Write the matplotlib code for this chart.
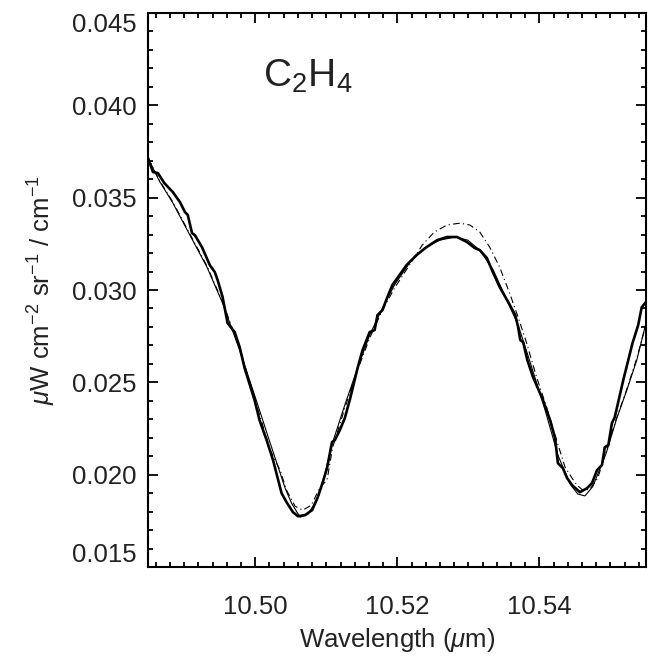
import matplotlib
matplotlib.use("Agg")
import matplotlib.pyplot as plt
from matplotlib.ticker import MultipleLocator, FixedLocator, FormatStrFormatter

# ---- data ----
obs_wl = [10.4849, 10.4856, 10.4863, 10.4872, 10.4884, 10.4894, 10.4901, 10.4905,
          10.4911, 10.4915, 10.4925, 10.4936, 10.4943, 10.4947, 10.4954, 10.4961,
          10.4971, 10.4978, 10.4985, 10.4999, 10.5006, 10.5016, 10.5025, 10.5037,
          10.5044, 10.5053, 10.5060, 10.5070, 10.5080, 10.5088, 10.5095, 10.5101,
          10.5108, 10.5112, 10.5119, 10.5126, 10.5133, 10.5144, 10.5151, 10.5161,
          10.5168, 10.5172, 10.5179, 10.5186, 10.5193, 10.5203, 10.5213, 10.5227,
          10.5241, 10.5256, 10.5270, 10.5284, 10.5298, 10.5309, 10.5316, 10.5326,
          10.5335, 10.5344, 10.5356, 10.5366, 10.5370, 10.5373, 10.5377, 10.5383,
          10.5391, 10.5405, 10.5415, 10.5422, 10.5426, 10.5433, 10.5439, 10.5446,
          10.5457, 10.5467, 10.5474, 10.5481, 10.5488, 10.5492, 10.5497, 10.5502,
          10.5506, 10.5518, 10.5531, 10.5539, 10.5544, 10.5550]
obs_rad = [0.03715, 0.03639, 0.03633, 0.03579, 0.03530, 0.03476, 0.03422, 0.03406,
           0.03308, 0.03297, 0.03232, 0.03135, 0.03097, 0.03054, 0.02962, 0.02821,
           0.02772, 0.02691, 0.02577, 0.02404, 0.02295, 0.02187, 0.02079, 0.01900,
           0.01851, 0.01797, 0.01775, 0.01781, 0.01808, 0.01878, 0.01959, 0.02035,
           0.02176, 0.02187, 0.02241, 0.02306, 0.02404, 0.02577, 0.02674, 0.02772,
           0.02783, 0.02864, 0.02891, 0.02962, 0.03027, 0.03081, 0.03135, 0.03189,
           0.03232, 0.03270, 0.03287, 0.03287, 0.03260, 0.03227, 0.03216, 0.03173,
           0.03092, 0.03016, 0.02935, 0.02864, 0.02799, 0.02729, 0.02718, 0.02620,
           0.02528, 0.02404, 0.02295, 0.02198, 0.02062, 0.02035, 0.01981, 0.01943,
           0.01905, 0.01927, 0.01954, 0.02024, 0.02052, 0.02149, 0.02160, 0.02279,
           0.02311, 0.02512, 0.02712, 0.02810, 0.02907, 0.02935]

fit_wl = [10.4849, 10.4865, 10.4884, 10.4908, 10.4932, 10.4954, 10.4978, 10.4999,
          10.5021, 10.5042, 10.5051, 10.5063, 10.5074, 10.5087, 10.5095, 10.5109,
          10.5126, 10.5144, 10.5161, 10.5179, 10.5196, 10.5217, 10.5238, 10.5260,
          10.5281, 10.5299, 10.5316, 10.5335, 10.5351, 10.5370, 10.5386, 10.5408,
          10.5426, 10.5443, 10.5454, 10.5464, 10.5475, 10.5494, 10.5508, 10.5523,
          10.5537, 10.5550]
fit_rad = [0.03715, 0.03590, 0.03471, 0.03297, 0.03124, 0.02929, 0.02674, 0.02431,
           0.02171, 0.01927, 0.01846, 0.01770, 0.01786, 0.01862, 0.01959, 0.02176,
           0.02377, 0.02577, 0.02756, 0.02902, 0.03027, 0.03146, 0.03227, 0.03270,
           0.03287, 0.03270, 0.03216, 0.03108, 0.02972, 0.02810, 0.02620, 0.02349,
           0.02106, 0.01950, 0.01895, 0.01885, 0.01935, 0.02117, 0.02295, 0.02458,
           0.02620, 0.02821]

alt_wl = [10.4849, 10.4865, 10.4884, 10.4908, 10.4932, 10.4954, 10.4978, 10.5004,
          10.5021, 10.5035, 10.5044, 10.5056, 10.5067, 10.5079, 10.5091, 10.5101,
          10.5109, 10.5126, 10.5144, 10.5161, 10.5179, 10.5196, 10.5217, 10.5235,
          10.5252, 10.5270, 10.5288, 10.5302, 10.5316, 10.5330, 10.5344, 10.5358,
          10.5370, 10.5382, 10.5396, 10.5410, 10.5422, 10.5436, 10.5446, 10.5453,
          10.5461, 10.5471, 10.5482, 10.5494, 10.5508, 10.5523, 10.5537, 10.5550]
alt_rad = [0.03715, 0.03595, 0.03476, 0.03303, 0.03130, 0.02935, 0.02685, 0.02349,
           0.02133, 0.02024, 0.01916, 0.01829, 0.01808, 0.01835, 0.01932, 0.01970,
           0.02149, 0.02360, 0.02566, 0.02740, 0.02891, 0.03010, 0.03135, 0.03243,
           0.03314, 0.03352, 0.03362, 0.03352, 0.03314, 0.03232, 0.03124, 0.02983,
           0.02853, 0.02712, 0.02528, 0.02366, 0.02214, 0.02041, 0.01981, 0.01943,
           0.01916, 0.01921, 0.01981, 0.02127, 0.02300, 0.02463, 0.02630, 0.02815]

x_major = [10.50, 10.52, 10.54]
y_major = [0.015, 0.020, 0.025, 0.030, 0.035, 0.040, 0.045]
species = r"C$_2$H$_4$"

# ---- style ----
plt.rcParams['font.family'] = ['Liberation Sans', 'DejaVu Sans']
plt.rcParams['mathtext.fontset'] = 'custom'
plt.rcParams['mathtext.rm'] = 'Liberation Sans'
plt.rcParams['mathtext.it'] = 'Liberation Sans:italic'
plt.rcParams['mathtext.default'] = 'rm'

txt = '#222222'
fig = plt.figure(figsize=(6.48, 6.56), dpi=100)
ax = fig.add_axes([148 / 648, (656 - 567) / 656, (646 - 148) / 648, (567 - 13) / 656])

ax.plot(fit_wl, fit_rad, color='black', lw=0.8)
ax.plot(alt_wl, alt_rad, color='black', lw=0.8, linestyle=(0, (6, 3, 1, 3)))
ax.plot(obs_wl, obs_rad, color='black', lw=1.9)

ax.set_xlim(10.4849, 10.5550)
ax.set_ylim(0.015, 0.045)

ax.xaxis.set_major_locator(FixedLocator(x_major))
ax.xaxis.set_minor_locator(MultipleLocator(0.002))
ax.yaxis.set_major_locator(FixedLocator(y_major))
ax.yaxis.set_minor_locator(MultipleLocator(0.001))
ax.xaxis.set_major_formatter(FormatStrFormatter('%.2f'))
ax.yaxis.set_major_formatter(FormatStrFormatter('%.3f'))

ax.tick_params(which='both', direction='in', top=True, right=True, width=1.3,
               labelsize=18.5, color='black', labelcolor=txt)
ax.tick_params(axis='x', which='major', length=7.5, pad=20)
ax.tick_params(axis='y', which='major', length=7.5, pad=8)
ax.tick_params(which='minor', length=3.8)
for s in ax.spines.values():
    s.set_linewidth(1.5)

ax.set_xlabel(r"Wavelength ($\mathit{\mu}$m)", fontsize=18.5, labelpad=5, color=txt)
ax.set_ylabel(r"$\mathit{\mu}$W cm$^{-2}$ sr$^{-1}$ / cm$^{-1}$", fontsize=18.5,
              labelpad=10, color=txt)

ax.text(10.5011, 0.04099, species, fontsize=28, ha='left', va='baseline', color=txt)

fig.canvas.draw()
ylabels = ax.get_yticklabels()
ylabels[0].set_verticalalignment('bottom')
ylabels[-1].set_verticalalignment('top')

fig.savefig('out.png', dpi=100)
